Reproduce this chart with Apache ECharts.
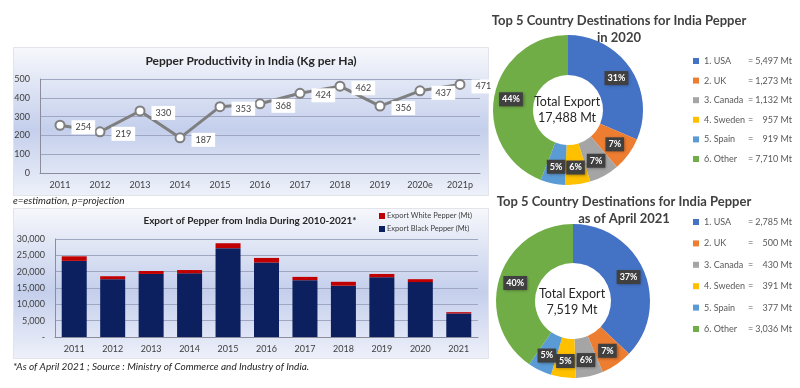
<!DOCTYPE html>
<html><head><meta charset="utf-8">
<script src="https://cdn.jsdelivr.net/npm/echarts@6/dist/echarts.min.js"></script>
<style>html,body{margin:0;padding:0;background:#fff}#c{width:800px;height:388px}</style>
</head><body><div id="c"></div>
<script>
// ---- data ----
var prodYears = ['2011','2012','2013','2014','2015','2016','2017','2018','2019','2020e','2021p'];
var prodValues = [254, 219, 330, 187, 353, 368, 424, 462, 356, 437, 471];
var exportYears = ['2011','2012','2013','2014','2015','2016','2017','2018','2019','2020','2021'];
var blackPepper = [23300, 17700, 19300, 19500, 27200, 22800, 17400, 15700, 18300, 16800, 7200];
var whitePepper = [1400, 900, 900, 1000, 1500, 1400, 1000, 1200, 1000, 900, 400];
var countries = ['1. USA', '2. UK', '3. Canada', '4. Sweden', '5. Spain', '6. Other'];
var dest2020 = [5497, 1273, 1132, 957, 919, 7710];
var dest2021 = [2785, 500, 430, 391, 377, 3036];
var prodTicks = [0, 100, 200, 300, 400, 500];
var exportTicks = [0, 5000, 10000, 15000, 20000, 25000, 30000];

var countryColors = ['#4472c4', '#ed7d31', '#a5a5a5', '#ffc000', '#5b9bd5', '#70ad47'];
var FONT = 'Lato';
function fmt(n){ return n.toString().replace(/\B(?=(\d{3})+(?!\d))/g, ','); }
function sum(a){ return a.reduce(function(s,v){return s+v;},0); }

var chart = echarts.init(document.getElementById('c'));

function panelBg(y, h){
  return {
    type: 'rect', left: 13, top: y, z: -10,
    shape: { width: 475, height: h },
    style: {
      fill: new echarts.graphic.LinearGradient(0,0,0,1,[
        {offset:0, color:'#f7f8fc'},
        {offset:0.55, color:'#c4cfec'},
        {offset:1, color:'#eef1fa'}
      ]),
      stroke: '#e2e4ea', lineWidth: 1
    }
  };
}

function pieData(vals){
  return vals.map(function(v,i){ return { name: countries[i], value: v, itemStyle: { color: countryColors[i] } }; });
}
function legendFor(vals, top, gap){
  return {
    orient: 'vertical', left: 693, top: top, padding: 0, itemWidth: 6, itemHeight: 6, itemGap: gap,
    icon: 'rect', data: countries, selectedMode: false,
    formatter: function(name){
      var i = countries.indexOf(name);
      return '{a|' + name + '}{b|=}{c|' + fmt(vals[i]) + ' Mt}';
    },
    textStyle: {
      fontFamily: FONT, fontSize: 9, color: '#595959', lineHeight: 12,
      rich: {
        a: { width: 41, fontFamily: FONT, fontSize: 9, color: '#595959' },
        b: { width: 11, align: 'center', fontFamily: FONT, fontSize: 9, color: '#595959' },
        c: { width: 36, align: 'right', fontFamily: FONT, fontSize: 9, color: '#595959' }
      }
    }
  };
}
var pieLabel = {
  show: true, position: 'inside', formatter: '{d}%',
  color: '#fff', fontFamily: FONT, fontWeight: 'bold', fontSize: 9,
  backgroundColor: '#404040', padding: [3, 3, 2, 3],
  shadowColor: 'rgba(0,0,0,0.35)', shadowBlur: 3, shadowOffsetX: 1, shadowOffsetY: 1
};
function titleText(text, left, top, size, extra){
  var ts = { fontFamily: FONT, fontSize: size, fontWeight: 'bold', color: '#262626' };
  for (var k in (extra || {})) ts[k] = extra[k];
  return { text: text, left: left, top: top, padding: 0, textAlign: ts.align || 'left', textStyle: ts };
}

var option = {
  animation: false,
  textStyle: { fontFamily: FONT },
  graphic: [ panelBg(47, 148), panelBg(208, 150) ],
  title: [
    titleText('Pepper Productivity in India (Kg per Ha)', 251, 55, 12, { align: 'center' }),
    titleText('e=estimation, p=projection', 13, 196, 10, { fontStyle: 'italic', fontWeight: 'normal' }),
    titleText('Export of Pepper from India During 2010-2021*', 250, 216, 10, { align: 'center' }),
    titleText('*As of April 2021 ; Source : Ministry of Commerce and Industry of India.', 13, 362, 10, { fontStyle: 'italic', fontWeight: 'normal' }),
    titleText('Top 5 Country Destinations for India Pepper\nin 2020', 619, 12, 13, { align: 'center', color: '#404040', lineHeight: 17 }),
    titleText('Top 5 Country Destinations for India Pepper\nas of April 2021', 624, 193, 13, { align: 'center', color: '#404040', lineHeight: 17 }),
    titleText('Total Export\n' + fmt(sum(dest2020)) + ' Mt', 567, 94, 12.5, { align: 'center', fontWeight: 'normal', lineHeight: 16 }),
    titleText('Total Export\n' + fmt(sum(dest2021)) + ' Mt', 572, 286, 12.5, { align: 'center', fontWeight: 'normal', lineHeight: 16 })
  ],
  legend: [
    {
      left: 379, top: 212, padding: 0, orient: 'vertical', itemWidth: 6, itemHeight: 6, itemGap: 5, icon: 'rect',
      selectedMode: false,
      data: ['Export White Pepper (Mt)', 'Export Black Pepper (Mt)'],
      textStyle: { fontFamily: FONT, fontSize: 7.5, color: '#404040', padding: [0, 0, 0, -3] }
    },
    legendFor(dest2020, 55, 7.6),
    legendFor(dest2021, 216, 9.4)
  ],
  grid: [
    { left: 40, right: 320, top: 79, bottom: 215 },
    { left: 55, right: 322, top: 239, bottom: 51 }
  ],
  xAxis: [
    { type: 'category', gridIndex: 0, data: prodYears,
      axisLine: { lineStyle: { color: '#8c8c9c' } }, axisTick: { show: false },
      axisLabel: { color: '#404040', fontFamily: FONT, fontSize: 9, margin: 8 } },
    { type: 'category', gridIndex: 1, data: exportYears,
      axisLine: { lineStyle: { color: '#8c8c9c' } }, axisTick: { show: false },
      axisLabel: { color: '#404040', fontFamily: FONT, fontSize: 9, margin: 8 } }
  ],
  yAxis: [
    { type: 'value', gridIndex: 0, min: prodTicks[0], max: prodTicks[prodTicks.length-1], interval: 100,
      axisLine: { show: true, lineStyle: { color: '#8c8c9c' } },
      splitLine: { lineStyle: { color: '#9ea6c2' } },
      axisLabel: { color: '#404040', fontFamily: FONT, fontSize: 9, margin: 10 } },
    { type: 'value', gridIndex: 1, min: exportTicks[0], max: exportTicks[exportTicks.length-1], interval: 5000,
      axisLine: { show: true, lineStyle: { color: '#8c8c9c' } },
      splitLine: { lineStyle: { color: '#9ea6c2' } },
      axisLabel: { color: '#404040', fontFamily: FONT, fontSize: 9, margin: 10,
        formatter: function(v){ return v === 0 ? '-' : fmt(v); } } }
  ],
  series: [
    { type: 'line', xAxisIndex: 0, yAxisIndex: 0, data: prodValues,
      lineStyle: { color: '#7f7f7f', width: 3 },
      symbol: 'circle', symbolSize: 9,
      itemStyle: { color: '#ffffff', borderColor: '#7f7f7f', borderWidth: 2 },
      label: { show: true, position: 'right', distance: 6, offset: [0, 2],
        color: '#404040', fontFamily: FONT, fontSize: 9, backgroundColor: '#ffffff', padding: [3, 4, 2, 4] } },
    { name: 'Export Black Pepper (Mt)', type: 'bar', stack: 'exp', xAxisIndex: 1, yAxisIndex: 1,
      data: blackPepper, barCategoryGap: '35%', itemStyle: { color: '#0c1f5e' } },
    { name: 'Export White Pepper (Mt)', type: 'bar', stack: 'exp', xAxisIndex: 1, yAxisIndex: 1,
      data: whitePepper, barCategoryGap: '35%', itemStyle: { color: '#c00000' } },
    { type: 'pie', center: [568, 110], radius: [35, 75], startAngle: 90, clockwise: true,
      percentPrecision: 0, data: pieData(dest2020), label: pieLabel, labelLine: { show: false } },
    { type: 'pie', center: [573, 301], radius: [38, 77], startAngle: 90, clockwise: true,
      percentPrecision: 0, data: pieData(dest2021), label: pieLabel, labelLine: { show: false } }
  ]
};
chart.setOption(option);
</script>
</body></html>
